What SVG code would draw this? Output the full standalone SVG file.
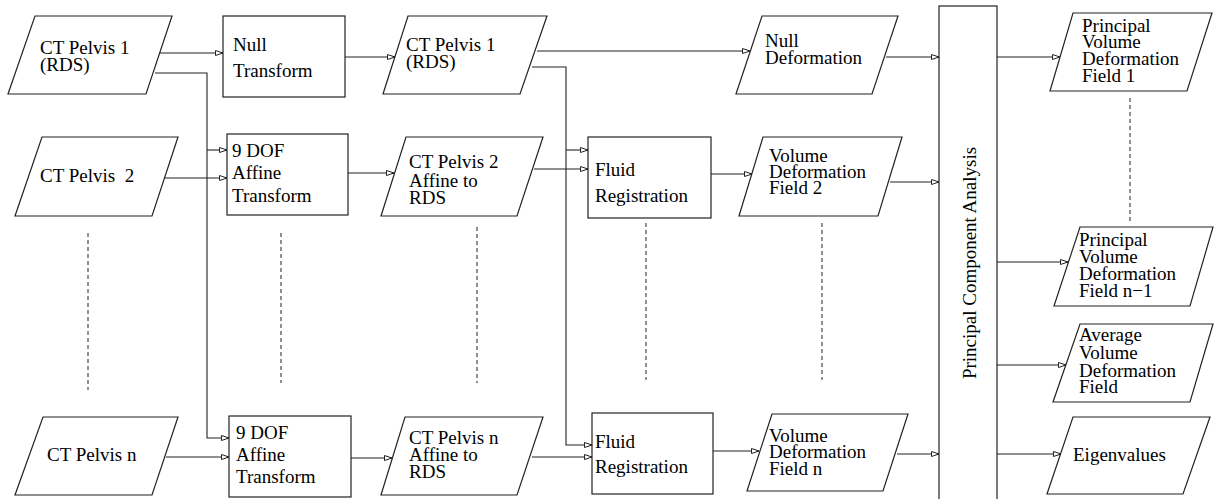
<svg xmlns="http://www.w3.org/2000/svg" width="1214" height="499" viewBox="0 0 1214 499">
  <style>
    .shape { fill: #fff; stroke: #222; stroke-width: 1.2; }
    .conn { fill: none; stroke: #222; stroke-width: 1.1; marker-end: url(#open); }
    .dash { fill: none; stroke: #222; stroke-width: 1; stroke-dasharray: 4 3; }
    .lbl { font-family: 'Liberation Serif', 'Times New Roman', Times, serif; font-size: 19px; fill: #000; }
  </style>
  <defs>
    <marker id="open" markerUnits="userSpaceOnUse" markerWidth="10" markerHeight="8" refX="8" refY="3" orient="auto">
      <path d="M0.5,0.5 L8,3 L0.5,5.5 Z" fill="#fff" stroke="#222" stroke-width="1"/>
    </marker>
  </defs>
  <rect width="1214" height="499" fill="#fff"/>

  <!-- connectors -->
  <g id="connectors">
    <polyline class="conn" points="159,53 223,53"/>
    <polyline class="conn" points="155,73 207,73 207,438 229,438"/>
    <polyline class="conn" points="207,150 227,150"/>
    <polyline class="conn" points="163,178 227,178"/>
    <polyline class="conn" points="166,457 229,457"/>
    <polyline class="conn" points="345,57 395,57"/>
    <polyline class="conn" points="348,173 394,173"/>
    <polyline class="conn" points="351,458 392,458"/>
    <polyline class="conn" points="537,51 750,51"/>
    <polyline class="conn" points="532,67 566,67 566,445 592,445"/>
    <polyline class="conn" points="566,150 588,150"/>
    <polyline class="conn" points="534,169 588,169"/>
    <polyline class="conn" points="532,457 592,457"/>
    <polyline class="conn" points="711,174 752,174"/>
    <polyline class="conn" points="713,451 759,451"/>
    <polyline class="conn" points="886,57 939,57"/>
    <polyline class="conn" points="890,182 939,182"/>
    <polyline class="conn" points="897,454 939,454"/>
    <polyline class="conn" points="997,57 1060,57"/>
    <polyline class="conn" points="997,262 1068,262"/>
    <polyline class="conn" points="997,365 1066,365"/>
    <polyline class="conn" points="997,454 1061,454"/>
    <!-- ellipsis columns -->
    <line class="dash" x1="88" y1="233" x2="88" y2="390"/>
    <line class="dash" x1="281" y1="233" x2="281" y2="383"/>
    <line class="dash" x1="477" y1="227" x2="477" y2="383"/>
    <line class="dash" x1="646" y1="223" x2="646" y2="380"/>
    <line class="dash" x1="822" y1="223" x2="822" y2="380"/>
    <line class="dash" x1="1130" y1="98" x2="1130" y2="223" stroke="#555"/>
  </g>

  <g class="lbl" font-family="Liberation Serif, serif" font-size="19">
  <!-- input volumes -->
  <g id="ct1">
    <polygon class="shape" points="35,16 172,16 146,94 8,94"/>
    <text x="40" y="54">CT Pelvis 1</text>
    <text x="40" y="71">(RDS)</text>
  </g>
  <g id="ct2">
    <polygon class="shape" points="42,137 178,137 152,216 15,216"/>
    <text x="40" y="182" xml:space="preserve">CT Pelvis  2</text>
  </g>
  <g id="ctn">
    <polygon class="shape" points="43,417 178,417 152,495 15,495"/>
    <text x="47" y="461">CT Pelvis n</text>
  </g>

  <!-- transforms -->
  <g id="null-transform">
    <rect class="shape" x="223" y="16" width="122" height="81"/>
    <text x="233" y="51">Null</text>
    <text x="233" y="77">Transform</text>
  </g>
  <g id="affine-2">
    <rect class="shape" x="227" y="134" width="121" height="81"/>
    <text x="232" y="157">9 DOF</text>
    <text x="232" y="179">Affine</text>
    <text x="232" y="202">Transform</text>
  </g>
  <g id="affine-n">
    <rect class="shape" x="229" y="416" width="122" height="81"/>
    <text x="236" y="439">9 DOF</text>
    <text x="236" y="461">Affine</text>
    <text x="236" y="483">Transform</text>
  </g>

  <!-- aligned volumes -->
  <g id="ct1-rds">
    <polygon class="shape" points="408,16 547,16 520,94 383,94"/>
    <text x="406" y="51">CT Pelvis 1</text>
    <text x="406" y="68">(RDS)</text>
  </g>
  <g id="ct2-affine">
    <polygon class="shape" points="406,137 543,137 517,216 381,216"/>
    <text x="409" y="168">CT Pelvis 2</text>
    <text x="409" y="187">Affine to</text>
    <text x="409" y="204">RDS</text>
  </g>
  <g id="ctn-affine">
    <polygon class="shape" points="405,417 543,417 517,495 381,495"/>
    <text x="409" y="444">CT Pelvis n</text>
    <text x="409" y="461">Affine to</text>
    <text x="409" y="478">RDS</text>
  </g>

  <!-- fluid registration -->
  <g id="fluid-2">
    <rect class="shape" x="588" y="137" width="123" height="81"/>
    <text x="595" y="176">Fluid</text>
    <text x="595" y="202">Registration</text>
  </g>
  <g id="fluid-n">
    <rect class="shape" x="592" y="413" width="121" height="81"/>
    <text x="595" y="448">Fluid</text>
    <text x="595" y="473">Registration</text>
  </g>

  <!-- deformation fields -->
  <g id="null-deformation">
    <polygon class="shape" points="762,16 898,16 872,94 736,94"/>
    <text x="765" y="47">Null</text>
    <text x="765" y="64">Deformation</text>
  </g>
  <g id="vdf-2">
    <polygon class="shape" points="763,137 902,137 878,216 739,216"/>
    <text x="769" y="162">Volume</text>
    <text x="769" y="178">Deformation</text>
    <text x="769" y="194">Field 2</text>
  </g>
  <g id="vdf-n">
    <polygon class="shape" points="772,414 908,414 883,491 747,491"/>
    <text x="769" y="442">Volume</text>
    <text x="769" y="458">Deformation</text>
    <text x="769" y="475">Field n</text>
  </g>

  <!-- PCA -->
  <g id="pca">
    <rect class="shape" x="939" y="6" width="58" height="500"/>
    <text transform="translate(976,263) rotate(-90)" text-anchor="middle">Principal Component Analysis</text>
  </g>

  <!-- outputs -->
  <g id="pvdf-1">
    <polygon class="shape" points="1073,13 1212,13 1187,91 1050,91"/>
    <text x="1082" y="32">Principal</text>
    <text x="1082" y="48">Volume</text>
    <text x="1082" y="65">Deformation</text>
    <text x="1082" y="82">Field 1</text>
  </g>
  <g id="pvdf-n1">
    <polygon class="shape" points="1080,227 1213,227 1190,306 1054,306"/>
    <text x="1079" y="246">Principal</text>
    <text x="1079" y="263">Volume</text>
    <text x="1079" y="280">Deformation</text>
    <text x="1079" y="297">Field n−1</text>
  </g>
  <g id="avg-vdf">
    <polygon class="shape" points="1080,324 1213,324 1190,402 1053,402"/>
    <text x="1079" y="341">Average</text>
    <text x="1079" y="359">Volume</text>
    <text x="1079" y="377">Deformation</text>
    <text x="1079" y="393">Field</text>
  </g>
  <g id="eigenvalues">
    <polygon class="shape" points="1073,417 1210,417 1183,494 1047,494"/>
    <text x="1073" y="461">Eigenvalues</text>
  </g>
  </g>
</svg>
